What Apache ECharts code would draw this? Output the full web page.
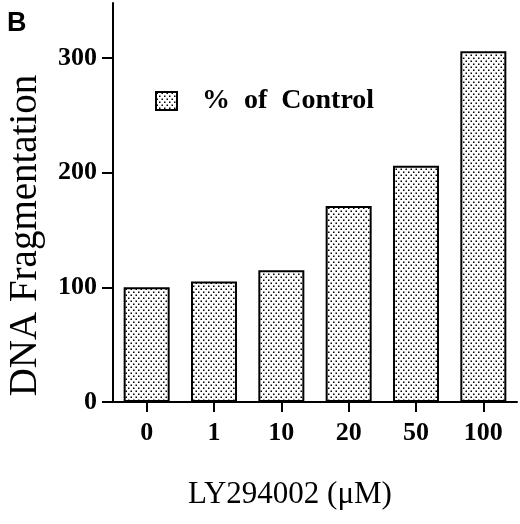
<!DOCTYPE html>
<html>
<head>
<meta charset="utf-8">
<script src="https://cdn.jsdelivr.net/npm/echarts@6/dist/echarts.min.js"></script>
<style>
html,body{margin:0;padding:0;background:#fff;}
#chart{width:520px;height:524px;}
</style>
</head>
<body>
<div id="chart"></div>
<script>
const categories = ['0', '1', '10', '20', '50', '100'];
const percentOfControl = [100, 105, 115, 171, 206, 306];
const yTicks = [0, 100, 200, 300];
const seriesName = '%  of  Control';

// stipple pattern
const tile = document.createElement('canvas');
tile.width = 5; tile.height = 6;
const tctx = tile.getContext('2d');
tctx.fillStyle = '#fff';
tctx.fillRect(0, 0, 5, 6);
tctx.fillStyle = '#000';
tctx.fillRect(0.5, 0.5, 1.5, 1.5);
tctx.fillRect(3, 3.5, 1.5, 1.5);

const chart = echarts.init(document.getElementById('chart'), null, {renderer: 'canvas'});
const serif = '"Liberation Serif", "Times New Roman", serif';
chart.setOption({
  animation: false,
  backgroundColor: '#fff',
  title: {
    text: 'B', left: 2, top: 5,
    textStyle: {fontFamily: '"Liberation Sans", Arial, sans-serif', fontWeight: 'bold', fontSize: 27, color: '#000'}
  },
  legend: {
    left: 155, top: 87, padding: 0,
    itemWidth: 21, itemHeight: 18,
    icon: 'rect',
    textStyle: {fontFamily: serif, fontWeight: 'bold', fontSize: 28, color: '#000', padding: [0, 0, 0, 20]},
    data: [seriesName]
  },
  grid: {left: 113, right: 3, top: 3, bottom: 122, containLabel: false, outerBoundsMode: 'none'},
  xAxis: {
    type: 'category',
    data: categories,
    name: 'LY294002 (μM)',
    nameLocation: 'middle',
    nameGap: 77,
    nameTextStyle: {fontFamily: serif, fontSize: 31, color: '#000', padding: [0, 50, 0, 0]},
    axisLine: {show: true, lineStyle: {color: '#000', width: 2}},
    axisTick: {show: true, alignWithLabel: true, length: 10, lineStyle: {color: '#000', width: 2}},
    axisLabel: {fontFamily: serif, fontWeight: 'bold', fontSize: 26, color: '#000', margin: 18},
    splitLine: {show: false}
  },
  yAxis: {
    type: 'value',
    min: 0, max: 348,
    name: 'DNA Fragmentation',
    nameLocation: 'middle',
    nameGap: 68,
    nameTextStyle: {fontFamily: serif, fontSize: 39, color: '#000', padding: [0, 66, 0, 0]},
    axisLine: {show: true, lineStyle: {color: '#000', width: 2}},
    axisTick: {show: true, length: 11, customValues: yTicks, lineStyle: {color: '#000', width: 2}},
    axisLabel: {fontFamily: serif, fontWeight: 'bold', fontSize: 26, color: '#000', margin: 16, customValues: yTicks},
    splitLine: {show: false}
  },
  series: [{
    name: seriesName,
    type: 'bar',
    data: percentOfControl,
    barWidth: 46,
    itemStyle: {
      color: {image: tile, repeat: 'repeat'},
      borderColor: '#000',
      borderWidth: 2
    }
  }]
});
</script>
</body>
</html>
